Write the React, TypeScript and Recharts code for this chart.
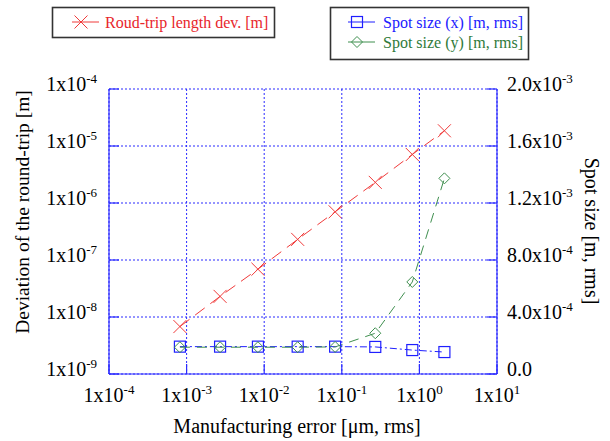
import React from "react";
import { LineChart, Line, XAxis, YAxis, CartesianGrid } from "recharts";

// manufacturing error [um, rms]
const errors = [0.00082, 0.0027, 0.0083, 0.027, 0.082, 0.27, 0.81, 2.1];
// round-trip length deviation [m] (left, log)
const roundTripDev = [6.8e-9, 2.3e-8, 6.9e-8, 2.3e-7, 7.0e-7, 2.3e-6, 7.1e-6, 1.85e-5];
// spot sizes [m, rms] (right, linear)
const spotX = [1.92e-4, 1.92e-4, 1.92e-4, 1.92e-4, 1.92e-4, 1.9e-4, 1.68e-4, 1.54e-4];
const spotY = [1.88e-4, 1.88e-4, 1.88e-4, 1.88e-4, 1.9e-4, 2.86e-4, 6.46e-4, 1.373e-3];

const xTicks = [1e-4, 1e-3, 1e-2, 1e-1, 1, 10];
const xTickExp = ["-4", "-3", "-2", "-1", "0", "1"];
const leftTicks = [1e-9, 1e-8, 1e-7, 1e-6, 1e-5, 1e-4];
const leftTickExp = ["-9", "-8", "-7", "-6", "-5", "-4"];
const rightTicks = [0, 4e-4, 8e-4, 1.2e-3, 1.6e-3, 2e-3];
const rightTickMant = ["0.0", "4.0x10", "8.0x10", "1.2x10", "1.6x10", "2.0x10"];
const rightTickExp = ["", "-4", "-4", "-3", "-3", "-3"];

const seriesNames = {
  dev: "Roud-trip length dev. [m]",
  sx: "Spot size (x) [m, rms]",
  sy: "Spot size (y) [m, rms]",
};

const data = errors.map((x, i) => ({
  x,
  dev: roundTripDev[i],
  sx: spotX[i],
  sy: spotY[i],
}));

const FONT = "'Liberation Serif', 'Times New Roman', serif";
const AXIS = "#2b2bff";
const RED = "#f03a3a";
const BLUE = "#1f1fff";
const GREEN = "#3f8f4f";

function findIdx(arr: number[], v: number) {
  return arr.findIndex((t) => Math.abs(t - v) <= Math.abs(t) * 1e-6 + 1e-15);
}

function Pow({ x, y, anchor, mant, exp }: any) {
  return (
    <text x={x} y={y} textAnchor={anchor} fontFamily={FONT} fontSize={20} fill="#000">
      <tspan>{mant}</tspan>
      {exp ? (
        <tspan dy={-8} fontSize={13}>
          {exp}
        </tspan>
      ) : null}
    </text>
  );
}

function BottomTick(props: any) {
  const { x, y, payload } = props;
  const i = findIdx(xTicks, payload.value);
  return (
    <g>
      <line x1={x} y1={y} x2={x} y2={y - 10} stroke={AXIS} strokeWidth={1.2} />
      <Pow x={x} y={y + 28} anchor="middle" mant="1x10" exp={xTickExp[i]} />
    </g>
  );
}

function TopTick(props: any) {
  const { x, y } = props;
  return <line x1={x} y1={y} x2={x} y2={y + 10} stroke={AXIS} strokeWidth={1.2} />;
}

function LeftTick(props: any) {
  const { x, y, payload } = props;
  const i = findIdx(leftTicks, payload.value);
  return (
    <g>
      <line x1={x} y1={y} x2={x + 10} y2={y} stroke={AXIS} strokeWidth={1.2} />
      <Pow x={x - 12} y={y + 2} anchor="end" mant="1x10" exp={leftTickExp[i]} />
    </g>
  );
}

function RightTick(props: any) {
  const { x, y, payload } = props;
  const i = findIdx(rightTicks, payload.value);
  return (
    <g>
      <line x1={x} y1={y} x2={x - 10} y2={y} stroke={AXIS} strokeWidth={1.2} />
      <Pow x={x + 10} y={y + 2} anchor="start" mant={rightTickMant[i]} exp={rightTickExp[i]} />
    </g>
  );
}

function Cross(props: any) {
  const { cx, cy, index } = props;
  const s = 6.5;
  return (
    <g key={`c${index}`}>
      <line x1={cx - s} y1={cy - s} x2={cx + s} y2={cy + s} stroke={RED} strokeWidth={1} />
      <line x1={cx - s} y1={cy + s} x2={cx + s} y2={cy - s} stroke={RED} strokeWidth={1} />
    </g>
  );
}

function Square(props: any) {
  const { cx, cy, index } = props;
  const s = 5.5;
  return (
    <rect key={`s${index}`} x={cx - s} y={cy - s} width={2 * s} height={2 * s} fill="none" stroke={BLUE} strokeWidth={1.2} />
  );
}

function Diamond(props: any) {
  const { cx, cy, index } = props;
  const s = 5.5;
  return (
    <path
      key={`d${index}`}
      d={`M${cx},${cy - s}L${cx + s},${cy}L${cx},${cy + s}L${cx - s},${cy}Z`}
      fill="none"
      stroke={GREEN}
      strokeWidth={1}
    />
  );
}

function LegendSymbol({ x, y, color, kind }: any) {
  const p = { cx: x + 9, cy: y, index: 0 };
  return (
    <g>
      <line x1={x} y1={y} x2={x + 27} y2={y} stroke={color} strokeWidth={1} />
      {kind === "cross" ? <Cross {...p} /> : kind === "square" ? <Square {...p} /> : <Diamond {...p} />}
    </g>
  );
}

export default function App() {
  return (
    <div style={{ position: "absolute", left: 0, top: 0, width: 610, height: 441, background: "#fff" }}>
      <LineChart width={610} height={441} data={data} margin={{ top: 89, right: 0, bottom: 0, left: 0 }}>
        <CartesianGrid
          xAxisId="bottom"
          yAxisId="left"
          stroke={AXIS}
          strokeDasharray="2 2"
          strokeWidth={1}
        />
        <XAxis
          xAxisId="bottom"
          dataKey="x"
          type="number"
          scale="log"
          domain={[1e-4, 10]}
          ticks={xTicks}
          allowDataOverflow
          height={67}
          tickSize={0}
          tickMargin={0}
          axisLine={{ stroke: AXIS, strokeWidth: 1.2 }}
          tickLine={false}
          tick={<BottomTick />}
          interval={0}
        />
        <XAxis
          xAxisId="top"
          orientation="top"
          dataKey="x"
          type="number"
          scale="log"
          domain={[1e-4, 10]}
          ticks={xTicks}
          allowDataOverflow
          height={0}
          tickSize={0}
          tickMargin={0}
          axisLine={{ stroke: AXIS, strokeWidth: 1.2 }}
          tickLine={false}
          tick={<TopTick />}
          interval={0}
        />
        <YAxis
          yAxisId="left"
          type="number"
          scale="log"
          domain={[1e-9, 1e-4]}
          ticks={leftTicks}
          allowDataOverflow
          width={109}
          tickSize={0}
          tickMargin={0}
          axisLine={{ stroke: AXIS, strokeWidth: 1.2 }}
          tickLine={false}
          tick={<LeftTick />}
          interval={0}
        />
        <YAxis
          yAxisId="right"
          orientation="right"
          type="number"
          domain={[0, 0.002]}
          ticks={rightTicks}
          allowDataOverflow
          width={113}
          tickSize={0}
          tickMargin={0}
          axisLine={{ stroke: AXIS, strokeWidth: 1.2 }}
          tickLine={false}
          tick={<RightTick />}
          interval={0}
        />
        <Line
          xAxisId="bottom"
          yAxisId="left"
          dataKey="dev"
          name={seriesNames.dev}
          stroke={RED}
          strokeWidth={1}
          strokeDasharray="12 7"
          dot={(p: any) => <Cross {...p} key={`c${p.index}`} />}
          activeDot={false}
          isAnimationActive={false}
        />
        <Line
          xAxisId="bottom"
          yAxisId="right"
          dataKey="sx"
          name={seriesNames.sx}
          stroke={BLUE}
          strokeWidth={1}
          strokeDasharray="7 3 2 3"
          dot={(p: any) => <Square {...p} key={`s${p.index}`} />}
          activeDot={false}
          isAnimationActive={false}
        />
        <Line
          xAxisId="bottom"
          yAxisId="right"
          dataKey="sy"
          name={seriesNames.sy}
          stroke={GREEN}
          strokeWidth={1}
          strokeDasharray="10 7"
          dot={(p: any) => <Diamond {...p} key={`d${p.index}`} />}
          activeDot={false}
          isAnimationActive={false}
        />
      </LineChart>
      <svg
        width={610}
        height={441}
        style={{ position: "absolute", left: 0, top: 0, pointerEvents: "none" }}
      >
        {/* legends */}
        <rect x={52.5} y={7.5} width={222} height={30} fill="#fff" stroke="#333" strokeWidth={1.6} />
        <LegendSymbol x={72} y={22} color={RED} kind="cross" />
        <text x={105} y={28} fontFamily={FONT} fontSize={16} fill="#e8262b">
          {seriesNames.dev}
        </text>
        <rect x={330.5} y={7.5} width={198} height={52} fill="#fff" stroke="#333" strokeWidth={1.6} />
        <LegendSymbol x={348} y={22} color={BLUE} kind="square" />
        <text x={383} y={28} fontFamily={FONT} fontSize={16} fill="#2020ff">
          {seriesNames.sx}
        </text>
        <LegendSymbol x={348} y={42} color={GREEN} kind="diamond" />
        <text x={383} y={48} fontFamily={FONT} fontSize={16} fill="#2f7a3a">
          {seriesNames.sy}
        </text>
        {/* axis titles */}
        <text
          x={297}
          y={433}
          textAnchor="middle"
          fontFamily={FONT}
          fontSize={20}
          fill="#000"
        >
          Manufacturing error [μm, rms]
        </text>
        <text
          transform="translate(22,212) rotate(-90)"
          textAnchor="middle"
          dominantBaseline="central"
          fontFamily={FONT}
          fontSize={19.5}
          fill="#000"
        >
          Deviation of the round-trip [m]
        </text>
        <text
          transform="translate(592,231) rotate(90)"
          textAnchor="middle"
          dominantBaseline="central"
          fontFamily={FONT}
          fontSize={20}
          fill="#000"
        >
          Spot size [m, rms]
        </text>
      </svg>
    </div>
  );
}
